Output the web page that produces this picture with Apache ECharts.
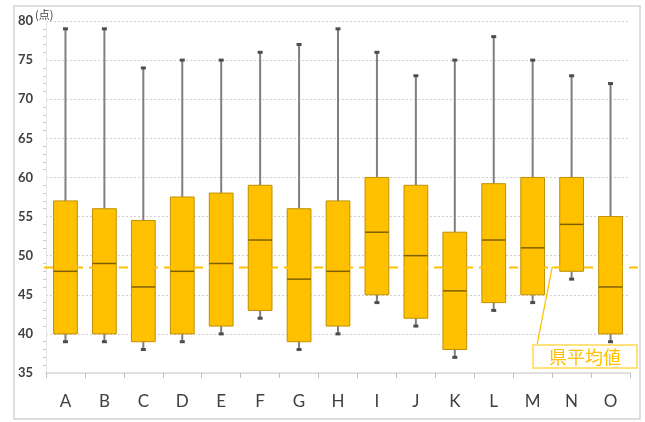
<!DOCTYPE html>
<html>
<head>
<meta charset="utf-8">
<script src="https://cdn.jsdelivr.net/npm/echarts@6/dist/echarts.min.js"></script>
<style>html,body{margin:0;padding:0;background:#fff;}#c{width:645px;height:422px;}</style>
</head>
<body>
<div id="c"></div>
<script>
var categories = ['A','B','C','D','E','F','G','H','I','J','K','L','M','N','O'];
var maxVals    = [79, 79, 74, 75, 75, 76, 77, 79, 76, 73, 75, 78, 75, 73, 72];
var q3Vals     = [57, 56, 54.5, 57.5, 58, 59, 56, 57, 60, 59, 53, 59.2, 60, 60, 55];
var medianVals = [48, 49, 46, 48, 49, 52, 47, 48, 53, 50, 45.5, 52, 51, 54, 46];
var q1Vals     = [40, 40, 39, 40, 41, 43, 39, 41, 45, 42, 38, 44, 45, 48, 40];
var minVals    = [39, 39, 38, 39, 40, 42, 38, 40, 44, 41, 37, 43, 44, 47, 39];
var prefAvg    = 48.5;
var avgLabel   = '県平均値';
var unitLabel  = '(点)';
var yMin = 35, yMax = 80, yStep = 5;

var boxData = categories.map(function(c, i){
  return [i, minVals[i], q1Vals[i], medianVals[i], q3Vals[i], maxVals[i]];
});

var chart = echarts.init(document.getElementById('c'), null, {renderer:'canvas'});

function renderBox(params, api){
  var i = api.value(0);
  var pMin = api.coord([i, api.value(1)]);
  var pQ1 = api.coord([i, api.value(2)]);
  var pMed = api.coord([i, api.value(3)]);
  var pQ3 = api.coord([i, api.value(4)]);
  var pMax = api.coord([i, api.value(5)]);
  var bw = api.size([1, 0])[0] * 0.61;
  var x = pQ1[0];
  var wStyle = {stroke:'#7f7f7f', lineWidth:2};
  return {
    type:'group',
    children:[
      {type:'line', shape:{x1:x, y1:pQ3[1], x2:x, y2:pMax[1]}, style:wStyle},
      {type:'line', shape:{x1:x, y1:pQ1[1], x2:x, y2:pMin[1]}, style:wStyle},
      {type:'rect', shape:{x:x-2.5, y:pMax[1]-1.5, width:5, height:3}, style:{fill:'#4d4d4d'}},
      {type:'rect', shape:{x:x-2.5, y:pMin[1]-1.5, width:5, height:3}, style:{fill:'#4d4d4d'}},
      {type:'rect', shape:{x:x-bw/2, y:pQ3[1], width:bw, height:pQ1[1]-pQ3[1]},
        style:{fill:'#FFC000', stroke:'#BF9000', lineWidth:1}},
      {type:'line', shape:{x1:x-bw/2, y1:pMed[1], x2:x+bw/2, y2:pMed[1]},
        style:{stroke:'#7F6000', lineWidth:1.5}}
    ]
  };
}

function renderAvg(params, api){
  var p = api.coord([0, api.value(0)]);
  var cs = params.coordSys;
  var y = p[1];
  var left = cs.x - 2, right = cs.x + cs.width + 10;
  var nI = categories.length - 2; // N
  var pN = api.coord([nI, api.value(0)]);
  var cw = api.size([1,0])[0];
  var jx = pN[0] - cw*0.5;
  var bx = cs.x + cs.width - 97, by = cs.y + cs.height - 28;
  return {
    type:'group',
    children:[
      {type:'line', shape:{x1:left, y1:y, x2:right, y2:y},
        style:{stroke:'#FFC000', lineWidth:2, lineDash:[9,6]}},
      {type:'polyline', shape:{points:[[bx+4, by], [jx, y], [jx+8, y]]},
        style:{stroke:'#FFC000', lineWidth:1.3, fill:null}},
      {type:'rect', shape:{x:bx, y:by, width:104, height:23},
        style:{fill:'#fff', stroke:'#FFE27A', lineWidth:2}},
      {type:'text', x:bx+52, y:by+12,
        style:{text:avgLabel, fill:'#FFC000', font:'18px "Noto Sans CJK JP"', align:'center', verticalAlign:'middle'}}
    ]
  };
}

chart.setOption({
  animation:false,
  backgroundColor:'#fff',
  grid:{left:46, right:15, top:21, bottom:49},
  graphic:[
    {type:'rect', shape:{x:14, y:6, width:626, height:413}, style:{fill:null, stroke:'#d4d4d4', lineWidth:1.5}, z:-1},
    {type:'text', left:35, top:9, style:{text:unitLabel, fill:'#404040', font:'11px "Noto Sans CJK JP"'}}
  ],
  xAxis:{
    type:'category', data:categories, boundaryGap:true,
    axisLine:{show:true, lineStyle:{color:'#d9d9d9', width:1.5}},
    axisTick:{show:true, alignWithLabel:false, length:5, lineStyle:{color:'#bfbfbf'}},
    axisLabel:{color:'#404040', fontSize:17, fontFamily:'Lato', margin:20},
    splitLine:{show:false}
  },
  yAxis:{
    type:'value', min:yMin, max:yMax, interval:yStep,
    axisLine:{show:true, lineStyle:{color:'#e6e6e6'}},
    axisTick:{show:false},
    minorTick:{show:true, splitNumber:5, length:3, lineStyle:{color:'#c8c8c8'}},
    axisLabel:{color:'#404040', fontSize:13, fontWeight:'bold', fontFamily:'Lato', margin:13},
    splitLine:{show:true, lineStyle:{color:'#d0d0d0', type:[2,2], width:1}}
  },
  series:[
    {type:'custom', name:'box', renderItem:renderBox, data:boxData, encode:{x:0, y:[1,2,3,4,5]}, z:3},
    {type:'custom', name:'avg', renderItem:renderAvg, data:[[prefAvg]], encode:{y:0}, z:4, clip:false}
  ]
});
</script>
</body>
</html>
